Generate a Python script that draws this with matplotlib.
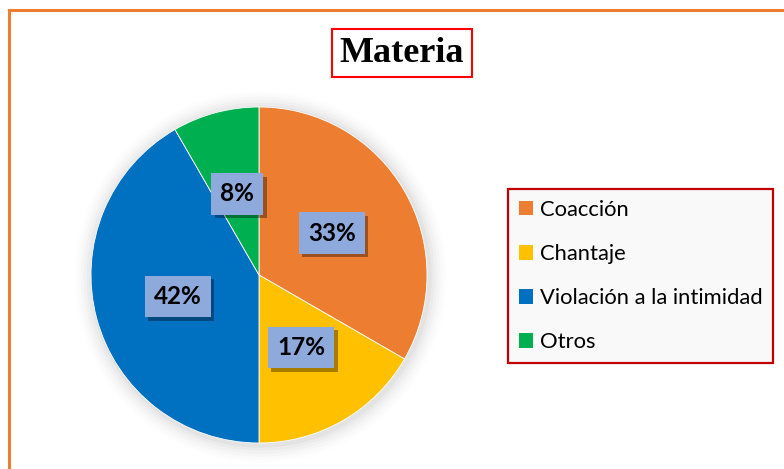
import matplotlib.pyplot as plt
import matplotlib.patheffects as pe
from matplotlib.patches import Patch
from matplotlib.lines import Line2D

# data
labels = ['Coacción', 'Chantaje', 'Violación a la intimidad', 'Otros']
counts = [4, 2, 5, 1]
colors = ['#ED7D31', '#FFC000', '#0070C0', '#00B050']

W, H = 784, 469
fig = plt.figure(figsize=(W / 100, H / 100), dpi=100)
fig.patch.set_facecolor('white')

# orange frame (only top and left edges are visible in the crop)
fig.add_artist(Line2D([9 / W, 1], [1 - 10 / H, 1 - 10 / H], color='#ED7D31', lw=2.2,
                      transform=fig.transFigure))
fig.add_artist(Line2D([9 / W, 9 / W], [0, 1 - 10 / H], color='#ED7D31', lw=2.2,
                      transform=fig.transFigure))

ax = fig.add_axes([91 / W, (H - 443) / H, 336 / W, 336 / H])

# soft glow behind the pie
for i, a in enumerate([0.03, 0.025, 0.02, 0.015, 0.01, 0.007]):
    ax.add_patch(plt.Circle((0.01, -0.01), 1 + 0.018 * (i + 1), color='k', alpha=a,
                            lw=0, zorder=0, clip_on=False))

wedges, texts, autotexts = ax.pie(
    counts, colors=colors, startangle=90, counterclock=False,
    autopct='%.0f%%', pctdistance=0.5,
    wedgeprops=dict(linewidth=0.6, edgecolor='white'),
    textprops=dict(fontsize=17.5, fontweight='bold', family='Lato', color='black'))
for w in wedges:
    w.set_zorder(2)

for t in autotexts:
    t.set_zorder(5)
    t.set_bbox(dict(boxstyle='square,pad=0.38', facecolor='#8EA9DB', edgecolor='none'))
    t.get_bbox_patch().set_path_effects([
        pe.SimplePatchShadow(offset=(2.5, -2.5), shadow_rgbFace='black', alpha=0.35),
        pe.Normal()])

ax.set_xlim(-1, 1)
ax.set_ylim(-1, 1)
ax.set_aspect('equal')
ax.axis('off')

# title in red box
fig.text(402 / W, 1 - 53 / H, 'Materia', ha='center', va='center',
         fontsize=26, fontweight='bold', family='Liberation Serif',
         bbox=dict(boxstyle='square,pad=0.22', facecolor='white', edgecolor='#FF0000', lw=1.5))

handles = [Patch(facecolor=c, edgecolor='none') for c in colors]
leg = fig.legend(handles, labels, loc='center left',
                 bbox_to_anchor=(508 / W, 1 - 276 / H),
                 frameon=True, fancybox=False, edgecolor='#C00000',
                 facecolor='#F9F9F9', framealpha=1,
                 prop=dict(family='Lato', size=15.8),
                 handlelength=0.65, handleheight=0.65, handletextpad=0.3,
                 labelspacing=1.1, borderpad=0.5, borderaxespad=0)
leg.get_frame().set_linewidth(1.6)

fig.savefig('out.png', dpi=100)
